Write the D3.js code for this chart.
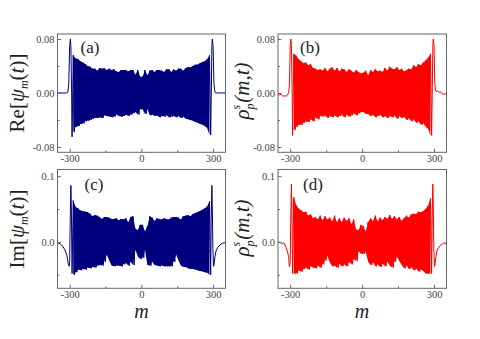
<!DOCTYPE html>
<html lang="en">
<head>
    <meta charset="UTF-8">
    <title>Re and Im of psi, rho</title>
    <script src="https://d3js.org/d3.v7.min.js"></script>
    <style>
        body { margin: 0; background: #fff; }
        svg { display: block; font-family: "Liberation Serif", serif; }
        .axis text { font-family: "Liberation Serif", serif; font-size: 10.5px; fill: #444; }
        .axis line { stroke: #666; }
        .axis path { display: none; }
    </style>
</head>
<body>
<svg id="chart" width="480" height="339"></svg>
<script>
// site index of each upper swing, the lower swing comes 5 sites later
var swingM = [-285,-275,-265,-255,-245,-235,-225,-215,-205,-195,-185,-175,-165,-155,-145,-135,-125,-115,-105,-95,-85,-75,-65,-55,-45,-35,-25,-15,-5,
    5,15,25,35,45,55,65,75,85,95,105,115,125,135,145,155,165,175,185,195,205,215,225,235,245,255,265,275,285];

// panel (a)
var upperA = [.056,.051,.050,.047,.045,.043,.040,.039,.036,.036,.033,.037,.036,.037,.034,.036,.034,.035,.032,.031,.034,.034,.034,.032,.034,.034,.027,.034,.024,
    .024,.034,.026,.033,.034,.031,.034,.034,.033,.031,.035,.035,.031,.035,.033,.036,.036,.033,.037,.038,.038,.040,.042,.042,.044,.046,.047,.050,.056];
var lowerA = [-.058,-.050,-.049,-.046,-.045,-.042,-.041,-.040,-.038,-.037,-.037,-.036,-.037,-.033,-.034,-.035,-.036,-.035,-.032,-.034,-.035,-.034,-.032,-.034,-.032,-.030,-.028,-.032,-.024,
    -.024,-.031,-.024,-.033,-.032,-.034,-.033,-.036,-.034,-.035,-.033,-.036,-.035,-.034,-.036,-.034,-.037,-.035,-.038,-.039,-.040,-.041,-.043,-.044,-.046,-.047,-.049,-.052,-.062];
var leftMA = [-351,-312,-308,-304,-300,-297,-295,-292,-290];
var leftA = [0,0,.001,.012,.070,.080,.070,0,-.065];
var rightMA = [293,295,297,300,304,308,312,352];
var rightA = [.01,.070,.080,.070,.012,.001,0,0];

// panel (b)
var upperB = [.058,.055,.050,.047,.044,.045,.041,.043,.037,.036,.034,.035,.033,.037,.032,.036,.038,.033,.037,.032,.036,.035,.031,.035,.033,.030,.034,.031,.029,
    .030,.033,.026,.034,.031,.035,.032,.033,.031,.037,.033,.039,.036,.035,.038,.034,.036,.032,.034,.036,.035,.041,.038,.043,.041,.045,.048,.052,.058];
var lowerB = [-.055,-.050,-.047,-.047,-.044,-.042,-.043,-.039,-.042,-.036,-.039,-.034,-.035,-.033,-.037,-.034,-.036,-.033,-.036,-.034,-.032,-.036,-.032,-.035,-.033,-.030,-.033,-.030,-.028,
    -.028,-.031,-.031,-.034,-.032,-.036,-.034,-.032,-.036,-.034,-.037,-.034,-.036,-.033,-.038,-.034,-.037,-.035,-.040,-.037,-.042,-.039,-.044,-.042,-.047,-.045,-.050,-.053,-.063];
var leftMB = [-351,-345,-338,-330,-322,-316,-310,-306,-303,-300,-297,-295,-292,-290];
var leftB = [-.002,-.003,-.002,-.005,-.004,-.005,-.002,.002,.015,.070,.080,.070,0,-.063];
var rightMB = [293,295,297,300,303,306,309,315,320,327,333,340,346,352];
var rightB = [.01,.070,.080,.070,.015,.004,.002,.003,.001,.002,-.001,-.002,-.001,-.002];

// panel (c)
var upperC = [.063,.053,.051,.048,.047,.046,.045,.043,.039,.041,.040,.038,.035,.038,.038,.037,.035,.035,.036,.033,.035,.034,.036,.030,.038,.039,.020,.018,.026,
    .026,.016,.024,.039,.037,.032,.036,.035,.034,.036,.035,.034,.037,.038,.038,.037,.034,.039,.040,.041,.039,.042,.044,.045,.047,.049,.051,.054,.062];
var lowerC = [-.050,-.046,-.042,-.043,-.041,-.042,-.039,-.040,-.038,-.039,-.036,-.035,-.036,-.030,-.019,-.028,-.036,-.037,-.036,-.036,-.037,-.034,-.032,-.036,-.030,-.035,-.012,-.022,-.026,
    -.024,-.012,-.035,-.036,-.030,-.035,-.036,-.037,-.036,-.037,-.037,-.037,-.037,-.030,-.019,-.028,-.036,-.038,-.038,-.040,-.041,-.041,-.042,-.043,-.044,-.045,-.046,-.047,-.050];
var leftMC = [-351,-340,-330,-320,-312,-306,-302,-300,-298,-295,-293,-290];
var leftC = [-.001,-.003,-.006,-.012,-.020,-.033,-.037,-.030,.030,.086,.050,-.048];
var rightMC = [292,295,297,299,302,304,307,312,320,330,340,352];
var rightC = [.030,.086,.050,-.010,-.037,-.035,-.024,-.014,-.008,-.004,-.002,-.001];

// panel (d)
var upperD = [.068,.056,.051,.048,.045,.046,.040,.042,.036,.038,.034,.040,.033,.039,.034,.037,.031,.040,.030,.036,.030,.037,.032,.036,.027,.034,.019,.018,.026,
    .024,.016,.030,.036,.032,.040,.031,.037,.033,.038,.035,.041,.035,.039,.034,.038,.032,.036,.040,.037,.042,.043,.042,.046,.045,.047,.050,.055,.066];
var lowerD = [-.048,-.048,-.043,-.045,-.041,-.039,-.042,-.037,-.039,-.040,-.036,-.039,-.034,-.028,-.021,-.031,-.037,-.036,-.039,-.033,-.037,-.034,-.037,-.030,-.034,-.026,-.029,-.014,-.018,
    -.018,-.015,-.030,-.035,-.031,-.037,-.034,-.038,-.033,-.037,-.030,-.036,-.039,-.030,-.022,-.029,-.035,-.040,-.036,-.041,-.038,-.043,-.040,-.045,-.042,-.044,-.048,-.048,-.048];
var leftMD = [-351,-345,-340,-335,-330,-325,-318,-312,-307,-303,-300,-298,-295,-293,-290];
var leftD = [-.001,0,-.001,-.003,-.001,-.002,-.008,-.014,-.022,-.038,-.030,.030,.088,.050,-.048];
var rightMD = [292,295,297,299,302,304,307,312,318,324,330,336,342,348,352];
var rightD = [.030,.088,.050,-.010,-.037,-.035,-.024,-.014,-.009,-.006,-.004,-.003,-.001,-.003,0];

// axes
var xTicks = [-300,0,300];
var xMinor = [-150,150];
var xLabels = ["-300","0","300"];
var yTicksTop = [-.08,0,.08];
var yMinorTop = [-.04,.04];
var yLabelsTop = ["-0.08","0.00","0.08"];
var yTicksBot = [0,.1];
var yMinorBot = [-.05,.05];
var yLabelsBot = ["0.0","0.1"];

var navy = "#00007f", red = "#ff0000";
var svg = d3.select("#chart");

function swings(lm, lv, up, lo, rm, rv) {
    var pts = lm.map(function(m, i) { return [m, lv[i]]; });
    swingM.forEach(function(m, i) {
        pts.push([m, up[i]]);
        pts.push([m + 5, lo[i]]);
    });
    rm.forEach(function(m, i) { pts.push([m, rv[i]]); });
    return pts;
}

function panel(x0, x1, y0, y1, yDomain, yT, yM, yL, color, up, lo, pts, name, nameX, nameY) {
    var x = d3.scaleLinear().domain([-351, 352]).range([x0, x1]);
    var y = d3.scaleLinear().domain(yDomain).range([y1, y0]);
    var g = svg.append("g");

    // the swings are too dense to resolve, so the band between them is solid
    var area = d3.area().x(function(d) { return x(d); })
        .y0(function(d, i) { return y(lo[i]); }).y1(function(d, i) { return y(up[i]); });
    g.append("path").datum(swingM).attr("d", area).attr("fill", color);

    var line = d3.line().x(function(d) { return x(d[0]); }).y(function(d) { return y(d[1]); });
    g.append("path").datum(pts).attr("d", line).attr("fill", "none")
        .attr("stroke", color).attr("stroke-width", 1).attr("stroke-linejoin", "round");

    // minor ticks first, no labels
    g.append("g").attr("class", "axis").attr("transform", "translate(0," + y1 + ")")
        .call(d3.axisBottom(x).tickValues(xMinor).tickSizeInner(-2).tickSizeOuter(0).tickFormat(""));
    g.append("g").attr("class", "axis").attr("transform", "translate(" + x0 + ",0)")
        .call(d3.axisLeft(y).tickValues(yM).tickSizeInner(-2).tickSizeOuter(0).tickFormat(""));

    g.append("g").attr("class", "axis").attr("transform", "translate(0," + y1 + ")")
        .call(d3.axisBottom(x).tickValues(xTicks).tickSizeInner(-3.5).tickSizeOuter(0).tickPadding(2)
            .tickFormat(function(d, i) { return xLabels[i]; }));
    g.append("g").attr("class", "axis").attr("transform", "translate(" + x0 + ",0)")
        .call(d3.axisLeft(y).tickValues(yT).tickSizeInner(-3.5).tickSizeOuter(0).tickPadding(3)
            .tickFormat(function(d, i) { return yL[i]; }));

    g.append("rect").attr("x", x0).attr("y", y0).attr("width", x1 - x0).attr("height", y1 - y0)
        .attr("fill", "none").attr("stroke", "#666").attr("stroke-width", 1);

    g.append("text").attr("x", nameX).attr("y", nameY).attr("text-anchor", "middle")
        .attr("font-size", 17).attr("fill", "#222").text(name);
}

var topDom = [-.0879, .0874], botDom = [-.0705, .1102];
panel(57.5, 225.5, 34, 152.3, topDom, yTicksTop, yMinorTop, yLabelsTop, navy, upperA, lowerA,
    swings(leftMA, leftA, upperA, lowerA, rightMA, rightA), "(a)", 90, 52.5);
panel(278, 446.5, 34, 152.3, topDom, yTicksTop, yMinorTop, yLabelsTop, red, upperB, lowerB,
    swings(leftMB, leftB, upperB, lowerB, rightMB, rightB), "(b)", 310, 52.5);
panel(57.5, 225.5, 169.5, 288.3, botDom, yTicksBot, yMinorBot, yLabelsBot, navy, upperC, lowerC,
    swings(leftMC, leftC, upperC, lowerC, rightMC, rightC), "(c)", 94, 190);
panel(278, 446.5, 169.5, 288.3, botDom, yTicksBot, yMinorBot, yLabelsBot, red, upperD, lowerD,
    swings(leftMD, leftD, upperD, lowerD, rightMD, rightD), "(d)", 313, 190);

// axis titles
function psiTitle(cx, cy, head) {
    var t = svg.append("text").attr("transform", "translate(" + cx + "," + cy + ") rotate(-90)")
        .attr("text-anchor", "middle").attr("font-size", 21).attr("fill", "#222");
    t.append("tspan").text(head + "[");
    t.append("tspan").attr("font-style", "italic").text("\u03c8");
    t.append("tspan").attr("font-style", "italic").attr("font-size", 12).attr("dy", 4).text("m");
    t.append("tspan").attr("dy", -4).text("(");
    t.append("tspan").attr("font-style", "italic").text("t");
    t.append("tspan").text(")]");
}
function rhoTitle(cx, cy) {
    var t = svg.append("text").attr("transform", "translate(" + cx + "," + cy + ") rotate(-90)")
        .attr("text-anchor", "middle").attr("font-size", 21).attr("font-style", "italic").attr("fill", "#222");
    t.append("tspan").text("\u03c1");
    t.append("tspan").attr("font-size", 12).attr("dy", 5).text("p");
    t.append("tspan").attr("font-size", 12).attr("dy", -14).attr("dx", -6).text("s");
    t.append("tspan").attr("dy", 9).attr("dx", 2).text("(m,t)");
}
psiTitle(24, 93, "Re");
psiTitle(24, 229, "Im");
rhoTitle(249, 91);
rhoTitle(249, 228);

[141.5, 362].forEach(function(cx) {
    svg.append("text").attr("x", cx).attr("y", 318).attr("text-anchor", "middle")
        .attr("font-size", 20).attr("font-style", "italic").attr("fill", "#222").text("m");
});
</script>
</body>
</html>
